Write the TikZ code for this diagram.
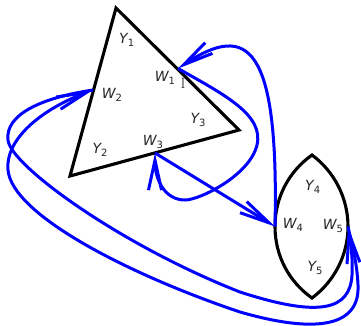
\documentclass[tikz,border=0pt]{standalone}
\usepackage{fontspec}
\newfontfamily\dejavu{DejaVu Sans}
\usetikzlibrary{arrows.meta}
\newcommand{\lbl}[2]{{\dejavu\itshape #1}\raisebox{-0.4ex}{\dejavu\fontsize{10}{10}\selectfont #2}}
\begin{document}
\begin{tikzpicture}[x=1pt,y=-1pt,
  edge/.style={draw=black, line width=3.1pt, line join=miter, miter limit=20},
  flow/.style={draw=blue, line width=3pt, -{Straight Barb[length=30pt,width=13pt]}},
  lab/.style={font=\fontsize{14}{14}\selectfont, inner sep=0pt, text=black!85}]
\useasboundingbox (0,0) rectangle (361,325);
% triangle
\coordinate (T1) at (116,8);
\coordinate (T2) at (239,130);
\coordinate (T3) at (70,176);
\draw[edge] (T1) -- (T2) -- (T3) -- cycle;
% lens
\coordinate (L1) at (312,155);
\coordinate (L2) at (312,298);
\coordinate (W4) at (275,226.5);
\coordinate (W5) at (348,226.5);
\draw[edge] (L1) .. controls (288.7,171.5) and (275,197.5) .. (W4)
  .. controls (275,255.5) and (288.7,281.5) .. (L2)
  .. controls (334.6,281.2) and (348,254.7) .. (W5)
  .. controls (348,198.3) and (334.6,171.8) .. cycle;
% connection points
\coordinate (W1) at (178,68.5);
\coordinate (W2) at (93,90);
\coordinate (W3) at (155,153);
% connectors
\draw[flow] (W4) .. controls (279,45) and (248,22) .. (W1);
\draw[flow] (W1) .. controls (225,95) and (264,115) .. (257,145)
  .. controls (250,175) and (200,200) .. (185,200)
  .. controls (165,200) and (155,180) .. (W3);
\draw[flow] (W3) -- (W4);
\draw[flow] (W2) .. controls (40,98) and (5,115) .. (8,140)
  .. controls (10,165) and (120,245) .. (240,292)
  .. controls (320,318) and (350,310) .. (352,275)
  .. controls (353,255) and (350,240) .. (W5);
\draw[flow] (W5) .. controls (352,245) and (357,262) .. (358,285)
  .. controls (360,325) and (320,335) .. (240,312)
  .. controls (130,275) and (12,215) .. (8,170)
  .. controls (5,140) and (40,110) .. (W2);
% labels
\node[lab] (lY1) at (126.7,40) {\lbl{Y}{1}};
\node[lab] (lW1) at (165,78) {\lbl{W}{1}};
\node[lab, font=\fontsize{15}{15}\selectfont] (lI) at (183,83) {I};
\node[lab] (lW2) at (112,95) {\lbl{W}{2}};
\node[lab] (lY3) at (198,120) {\lbl{Y}{3}};
\node[lab] (lY2) at (100,150) {\lbl{Y}{2}};
\node[lab] (lW3) at (153,142) {\lbl{W}{3}};
\node[lab] (lY4) at (312.7,186.7) {\lbl{Y}{4}};
\node[lab] (lW4) at (293,225) {\lbl{W}{4}};
\node[lab] (lW5) at (333,226) {\lbl{W}{5}};
\node[lab] (lY5) at (315,268) {\lbl{Y}{5}};
\end{tikzpicture}
\end{document}
